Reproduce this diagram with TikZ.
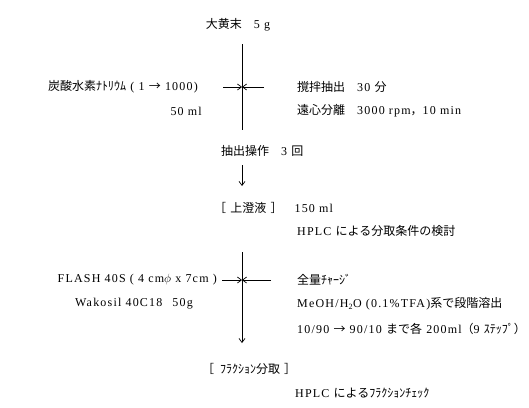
\documentclass[tikz,border=0pt]{standalone}
\usepackage{fontspec}
\setmainfont{Liberation Serif}[LetterSpace=10]
\newfontfamily\jpfont{Noto Sans CJK JP}
\newcommand{\jp}[1]{{\jpfont #1}}
\usetikzlibrary{arrows.meta}
\tikzset{material/.style={inner sep=0pt, font=\fontsize{12}{14}\selectfont}}
\tikzset{condition/.style={material, anchor=west}}
\tikzset{reagent/.style={material, anchor=east}}
\tikzset{flow/.style={line width=.7pt, -{Straight Barb[length=4pt, width=6pt]}}}

\begin{document}
\begin{tikzpicture}[x=1pt, y=-1pt]
\useasboundingbox (0,0) rectangle (529,407);
% Nodes
\node (powder) [material] at (238,25) {\jp{大黄末　}5 g};

\node (bicarb) [reagent] at (198,87) {\jp{炭酸水素ﾅﾄﾘｳﾑ} ( 1 \jp{→} 1000)};
\node (bicarbVol) [reagent] at (202,111) {50 ml};
\node (stir) [condition] at (297,87) {\jp{撹拌抽出　}30 \jp{分}};
\node (centrifuge) [condition] at (297,111) {\jp{遠心分離　}3000 rpm\jp{，}10 min};

\node (extract) [condition] at (221,151) {\jp{抽出操作　}3 \jp{回}};

\node (supernatant) [condition] at (214,208) {\jp{［} \jp{上澄液} \jp{］　}150 ml};
\node (hplcCheck) [condition] at (297,231) {HPLC \jp{による分取条件の検討}};

\node (flash) [reagent] at (217,280) {FLASH 40S ( 4 cm$\phi$ x 7cm )};
\node (wakosil) [reagent] at (193,304) {Wakosil 40C18\hspace{10pt}50g};
\node (charge) [condition] at (297,280) {\jp{全量ﾁｬｰｼﾞ}};
\node (eluent) [condition] at (297,304) {MeOH/H\textsubscript{2}O (0.1\%TFA)\jp{系で段階溶出}};
\node (steps) [condition] at (297,329) {10/90 \jp{→} 90/10 \jp{まで各} 200ml\jp{（}9 \jp{ｽﾃｯﾌﾟ）}};

\node (fraction) [condition] at (202,369) {\jp{［}\hspace{6pt}\jp{ﾌﾗｸｼｮﾝ分取}\hspace{4pt}\jp{］}};
\node (hplcFraction) [condition] at (295,393) {HPLC \jp{によるﾌﾗｸｼｮﾝﾁｪｯｸ}};

\coordinate (mixTop) at (242,44);
\coordinate (mixBot) at (242,130);
\coordinate (mix) at (242,87);
\coordinate (bicarbIn) at (223,87);
\coordinate (stirIn) at (264,87);
\coordinate (stepTop) at (242,165);
\coordinate (stepBot) at (242,186);
\coordinate (columnTop) at (242,252);
\coordinate (columnBot) at (242,343);
\coordinate (column) at (242,280);
\coordinate (flashIn) at (222,280);
\coordinate (chargeIn) at (271,280);

% Connectors
\draw [line width=.7pt] (mixTop) -- (mixBot);
\draw [flow] (bicarbIn) -- (mix);
\draw [flow] (stirIn) -- (mix);
\draw [flow] (stepTop) -- (stepBot);

\draw [flow] (columnTop) -- (columnBot);
\draw [flow] (flashIn) -- (column);
\draw [flow] (chargeIn) -- (column);

\end{tikzpicture}
\end{document}
